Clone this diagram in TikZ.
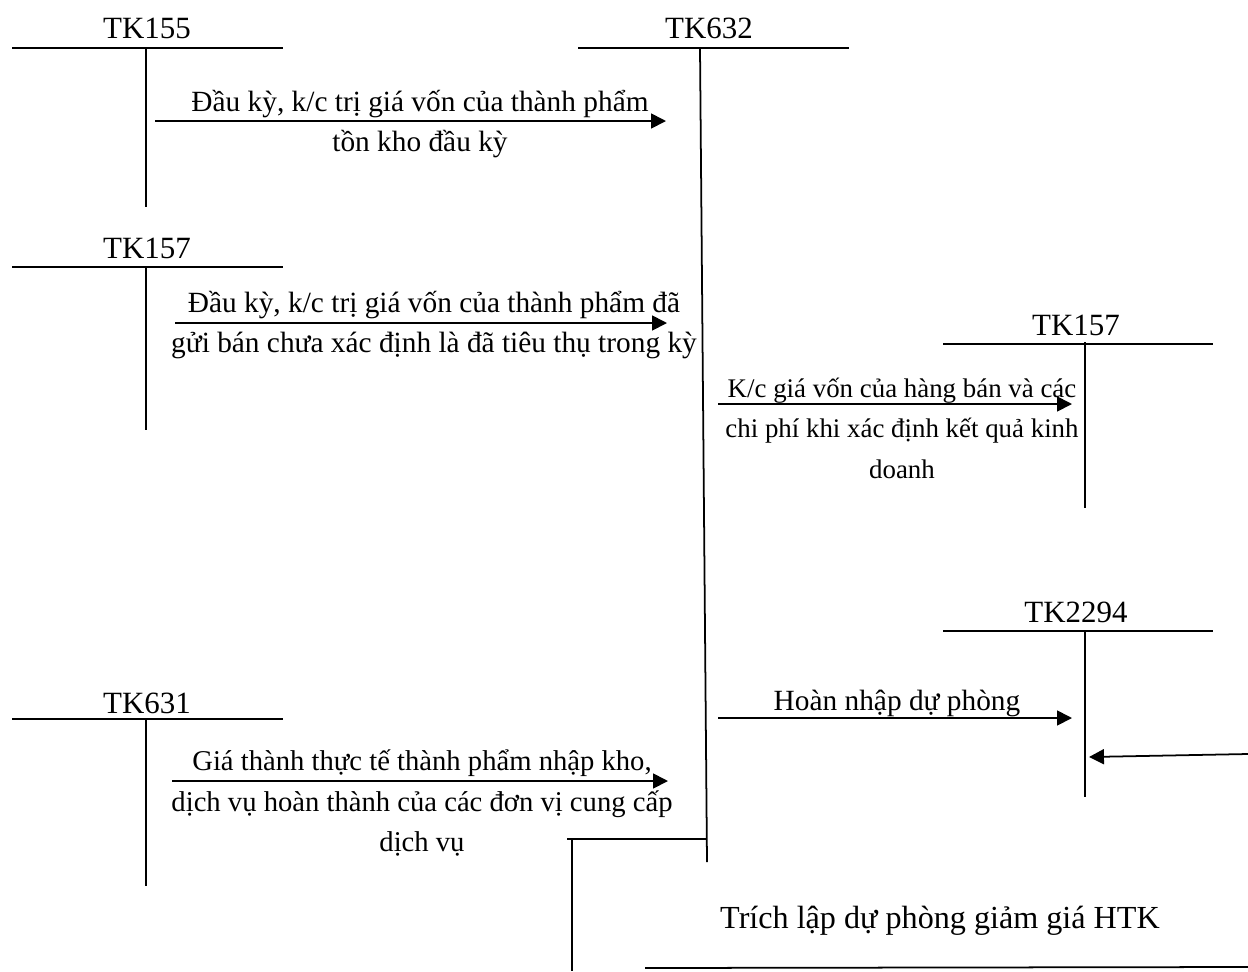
\documentclass[tikz,border=0pt]{standalone}
\usepackage{fontspec}
\setmainfont{Liberation Serif}
\usetikzlibrary{arrows.meta}
\tikzset{
  acct/.style={line width=1pt},
  flow/.style={line width=1pt,-{Triangle[length=8.5pt,width=8.5pt]}},
  txt/.style={font=\fontsize{#1}{23}\selectfont,align=center,inner sep=0pt},
  txt/.default=16.7,
  tkname/.style={font=\fontsize{17.6}{21}\selectfont,inner sep=0pt}
}
\begin{document}
\begin{tikzpicture}[x=0.02cm,y=-0.02cm]
  \useasboundingbox (0,0) rectangle (1248,971);
  \node[tkname] (tk155) at (147,28) {TK155};
  \draw[acct] (12,48) -- (283,48);
  \draw[acct] (146,48) -- (146,207);
  \node[tkname] (tk632) at (709,28) {TK632};
  \draw[acct] (578,48) -- (849,48);
  \draw[acct] (700,48) -- (707,862);
  \node[tkname] (tk157a) at (147,248) {TK157};
  \draw[acct] (12,267) -- (283,267);
  \draw[acct] (146,267) -- (146,430);
  \node[tkname] (tk157b) at (1076,325) {TK157};
  \draw[acct] (943,344) -- (1213,344);
  \draw[acct] (1085,342) -- (1085,508);
  \node[tkname] (tk2294) at (1076,612) {TK2294};
  \draw[acct] (943,631) -- (1213,631);
  \draw[acct] (1085,631) -- (1085,797);
  \node[tkname] (tk631) at (147,703) {TK631};
  \draw[acct] (12,719) -- (283,719);
  \draw[acct] (146,719) -- (146,886);
  \coordinate (a1) at (155,121);
  \coordinate (b1) at (666,121);
  \draw[flow] (a1) -- (b1);
  \node[txt] (t1) at (420,124) {Đầu kỳ, k/c trị giá vốn của thành phẩm\\tồn kho đầu kỳ};
  \coordinate (a2) at (175,323);
  \coordinate (b2) at (667,323);
  \draw[flow] (a2) -- (b2);
  \node[txt] (t2) at (434,325) {Đầu kỳ, k/c trị giá vốn của thành phẩm đã\\gửi bán chưa xác định là đã tiêu thụ trong kỳ};
  \coordinate (a3) at (718,404);
  \coordinate (b3) at (1072,404);
  \draw[flow] (a3) -- (b3);
  \node[txt=15.3] (t3) at (902,428) {K/c giá vốn của hàng bán và các\\chi phí khi xác định kết quả kinh\\doanh};
  \coordinate (a4) at (718,718);
  \coordinate (b4) at (1072,718);
  \draw[flow] (a4) -- (b4);
  \node[txt] (t4) at (897,703) {Hoàn nhập dự phòng};
  \coordinate (a5) at (1248,754);
  \coordinate (b5) at (1089,757);
  \draw[flow] (a5) -- (b5);
  \coordinate (a6) at (172,781);
  \coordinate (b6) at (668,781);
  \draw[flow] (a6) -- (b6);
  \node[txt=16.3] (t6) at (422,803) {Giá thành thực tế thành phẩm nhập kho,\\dịch vụ hoàn thành của các đơn vị cung cấp\\dịch vụ};
  \draw[acct] (567,839) -- (706,839);
  \draw[acct] (572,839) -- (572,971);
  \draw[acct] (645,968) -- (1248,967);
  \node[font=\fontsize{18.3}{21}\selectfont,inner sep=0pt] (t5) at (940,921) {Trích lập dự phòng giảm giá HTK};
\end{tikzpicture}
\end{document}
